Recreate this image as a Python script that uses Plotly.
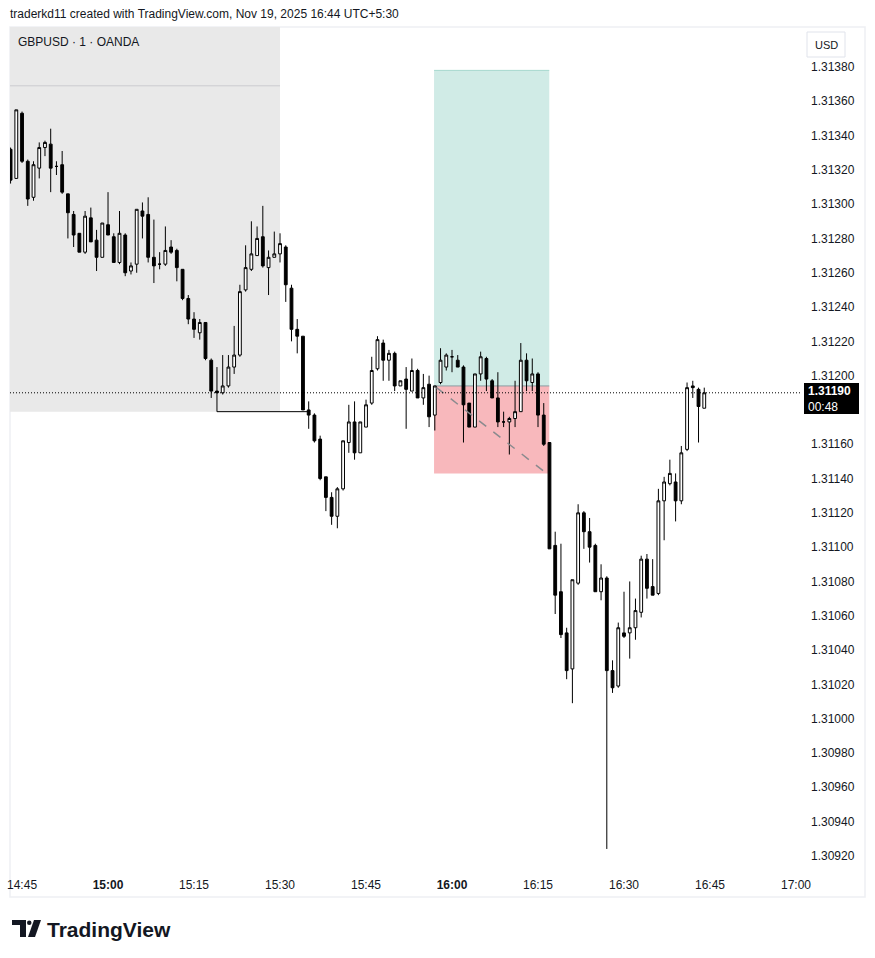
import pandas as pd
import plotly.graph_objects as go

# ---------------- data ----------------
start_time = "2025-11-19 14:43"
n_bars = 122

opens = [1.31332,1.31315,1.31353,1.31325,1.31304,1.31321,1.31333,1.31335,1.31322,1.31323,
         1.31306,1.31294,1.31283,1.31272,1.31292,1.31279,1.31269,1.31288,1.31281,1.31266,
         1.31282,1.31261,1.31265,1.31296,1.31294,1.31269,1.31265,1.31265,1.31275,1.31273,
         1.31262,1.31245,1.31233,1.31225,1.31231,1.31209,1.31191,1.31190,1.31194,1.31205,
         1.31212,1.31250,1.31262,1.31270,1.31281,1.31263,1.31269,1.31271,1.31275,1.31251,
         1.31227,1.31223,1.31180,1.31177,1.31163,1.31141,1.31129,1.31118,1.31134,1.31161,
         1.31173,1.31155,1.31170,1.31184,1.31204,1.31219,1.31209,1.31213,1.31194,1.31198,
         1.31191,1.31203,1.31187,1.31195,1.31177,1.31196,1.31205,1.31211,1.31209,1.31205,
         1.31184,1.31170,1.31201,1.31210,1.31197,1.31187,1.31173,1.31173,1.31175,1.31179,
         1.31209,1.31196,1.31201,1.31177,1.31161,1.31101,1.31074,1.31050,1.31029,1.31079,
         1.31120,1.31109,1.31101,1.31074,1.31082,1.31028,1.31019,1.31050,1.31050,1.31053,
         1.31062,1.31093,1.31077,1.31073,1.31127,1.31137,1.31138,1.31127,1.31157,1.31194,
         1.31192,1.31181]

highs = [1.31333,1.31355,1.31354,1.31326,1.31325,1.31336,1.31337,1.31344,1.31325,1.31331,
         1.31306,1.31296,1.31283,1.31296,1.31298,1.31285,1.31289,1.31307,1.31283,1.31296,
         1.31283,1.31266,1.31297,1.31301,1.31304,1.31291,1.31272,1.31287,1.31279,1.31274,
         1.31262,1.31247,1.31237,1.31233,1.31231,1.31210,1.31205,1.31212,1.31212,1.31229,
         1.31253,1.31276,1.31290,1.31287,1.31299,1.31273,1.31284,1.31283,1.31276,1.31253,
         1.31233,1.31223,1.31185,1.31178,1.31165,1.31141,1.31132,1.31135,1.31162,1.31183,
         1.31185,1.31173,1.31186,1.31211,1.31223,1.31221,1.31215,1.31214,1.31197,1.31205,
         1.31210,1.31204,1.31201,1.31200,1.31194,1.31216,1.31213,1.31215,1.31212,1.31206,
         1.31184,1.31201,1.31214,1.31211,1.31198,1.31202,1.31179,1.31176,1.31197,1.31219,
         1.31213,1.31210,1.31202,1.31184,1.31161,1.31109,1.31102,1.31053,1.31081,1.31125,
         1.31121,1.31117,1.31102,1.31090,1.31083,1.31034,1.31056,1.31074,1.31080,1.31070,
         1.31095,1.31096,1.31093,1.31134,1.31141,1.31151,1.31143,1.31159,1.31196,1.31197,
         1.31193,1.31193]

lows = [1.31312,1.31315,1.31324,1.31299,1.31302,1.31315,1.31328,1.31307,1.31317,1.31306,
        1.31280,1.31275,1.31272,1.31271,1.31278,1.31261,1.31269,1.31282,1.31266,1.31265,
        1.31258,1.31259,1.31260,1.31280,1.31266,1.31254,1.31262,1.31264,1.31271,1.31255,
        1.31244,1.31230,1.31222,1.31221,1.31209,1.31187,1.31179,1.31189,1.31193,1.31201,
        1.31211,1.31249,1.31261,1.31270,1.31263,1.31247,1.31269,1.31266,1.31243,1.31220,
        1.31213,1.31180,1.31169,1.31161,1.31139,1.31121,1.31113,1.31111,1.31133,1.31155,
        1.31151,1.31155,1.31170,1.31183,1.31203,1.31197,1.31197,1.31191,1.31194,1.31169,
        1.31191,1.31187,1.31183,1.31170,1.31168,1.31195,1.31203,1.31202,1.31205,1.31161,
        1.31170,1.31170,1.31197,1.31191,1.31187,1.31170,1.31170,1.31154,1.31170,1.31179,
        1.31191,1.31191,1.31170,1.31159,1.31099,1.31061,1.31047,1.31023,1.31009,1.31078,
        1.31099,1.31091,1.31074,1.31069,1.30924,1.31015,1.31018,1.31047,1.31035,1.31046,
        1.31059,1.31070,1.31072,1.31072,1.31104,1.31136,1.31115,1.31125,1.31156,1.31187,
        1.31161,1.31181]

closes = [1.31314,1.31355,1.31325,1.31303,1.31323,1.31333,1.31336,1.31321,1.31322,1.31307,
          1.31295,1.31282,1.31272,1.31293,1.31278,1.31269,1.31289,1.31282,1.31266,1.31283,
          1.31260,1.31264,1.31297,1.31293,1.31269,1.31264,1.31265,1.31273,1.31272,1.31263,
          1.31245,1.31233,1.31227,1.31231,1.31210,1.31191,1.31190,1.31194,1.31205,1.31212,
          1.31249,1.31263,1.31271,1.31280,1.31264,1.31269,1.31271,1.31277,1.31253,1.31227,
          1.31223,1.31180,1.31177,1.31162,1.31140,1.31129,1.31118,1.31134,1.31162,1.31173,
          1.31155,1.31173,1.31183,1.31203,1.31221,1.31209,1.31213,1.31194,1.31197,1.31192,
          1.31203,1.31187,1.31193,1.31176,1.31194,1.31209,1.31212,1.31211,1.31205,1.31183,
          1.31170,1.31201,1.31211,1.31198,1.31187,1.31173,1.31173,1.31175,1.31179,1.31209,
          1.31197,1.31201,1.31177,1.31160,1.31099,1.31072,1.31049,1.31028,1.31081,1.31120,
          1.31109,1.31100,1.31074,1.31082,1.31028,1.31018,1.31053,1.31048,1.31053,1.31063,
          1.31093,1.31076,1.31072,1.31127,1.31138,1.31143,1.31127,1.31155,1.31193,1.31193,
          1.31182,1.31190]

last_price = 1.31190
countdown = "00:48"

x_tick_vals = ["2025-11-19 14:45", "2025-11-19 15:00", "2025-11-19 15:15", "2025-11-19 15:30",
               "2025-11-19 15:45", "2025-11-19 16:00", "2025-11-19 16:15", "2025-11-19 16:30",
               "2025-11-19 16:45", "2025-11-19 17:00"]
x_tick_text = ["14:45", "<b>15:00</b>", "15:15", "15:30", "15:45", "<b>16:00</b>",
               "16:15", "16:30", "16:45", "17:00"]

y_tick_vals = [1.31380, 1.31360, 1.31340, 1.31320, 1.31300, 1.31280, 1.31260, 1.31240,
               1.31220, 1.31200, 1.31160, 1.31140, 1.31120, 1.31100, 1.31080, 1.31060,
               1.31040, 1.31020, 1.31000, 1.30980, 1.30960, 1.30940, 1.30920]
y_tick_text = [f"{v:.5f}" for v in y_tick_vals]

# drawings
shade_end = "2025-11-19 15:30"
shade_low = 1.31179
shade_line_price = 1.31369
swing_low_price = 1.31179
swing_line_start = "2025-11-19 15:19"
swing_line_end = "2025-11-19 15:35"

pos_start = "2025-11-19 15:56:52"
pos_end = "2025-11-19 16:16:58"
pos_target = 1.31378
pos_entry = 1.31194
pos_stop = 1.31143
path_start = ("2025-11-19 15:57:18", 1.31193)
path_end = ("2025-11-19 16:16:30", 1.31143)

x_range = ["2025-11-19 14:42:54", "2025-11-19 17:00:42"]
y_range = [1.309129, 1.314033]

# ---------------- figure ----------------
times = pd.date_range(start_time, periods=n_bars, freq="min")

W, H = 875, 958
L, R, T, B = 10, 800, 27, 868   # plot area in pixels


def px(x):
    return (x - L) / (R - L)


def py(y):
    return (B - y) / (B - T)


FONT = "Liberation Sans, Arial, sans-serif"
TXT = "#131722"

fig = go.Figure()
fig.add_trace(go.Candlestick(
    x=times, open=opens, high=highs, low=lows, close=closes,
    increasing=dict(fillcolor="#ffffff", line=dict(color="#000000", width=1)),
    decreasing=dict(fillcolor="#000000", line=dict(color="#000000", width=1)),
    whiskerwidth=0, showlegend=False, hoverinfo="skip",
))

shapes = []
# frame around chart
shapes.append(dict(type="rect", xref="paper", yref="paper", x0=px(10), x1=px(865),
                   y0=py(897), y1=py(27), line=dict(color="#eef0f3", width=1.5),
                   fillcolor="rgba(0,0,0,0)", layer="below"))
# gray highlight rectangle
shapes.append(dict(type="rect", xref="x", yref="y", x0=x_range[0], x1=shade_end,
                   y0=shade_low, y1=y_range[1], fillcolor="#e9e9e9", line=dict(width=0),
                   layer="below"))
shapes.append(dict(type="line", xref="x", yref="y", x0=x_range[0], x1=shade_end,
                   y0=shade_line_price, y1=shade_line_price,
                   line=dict(color="#cbcbcf", width=1), layer="below"))
# long position box
shapes.append(dict(type="rect", xref="x", yref="y", x0=pos_start, x1=pos_end,
                   y0=pos_entry, y1=pos_target, fillcolor="#d0ebe6", line=dict(width=0),
                   layer="below"))
shapes.append(dict(type="rect", xref="x", yref="y", x0=pos_start, x1=pos_end,
                   y0=pos_stop, y1=pos_entry, fillcolor="#f8b8bc", line=dict(width=0),
                   layer="below"))
shapes.append(dict(type="line", xref="x", yref="y", x0=pos_start, x1=pos_end,
                   y0=pos_target, y1=pos_target, line=dict(color="#a6d8cd", width=1),
                   layer="below"))
shapes.append(dict(type="line", xref="x", yref="y", x0=pos_start, x1=pos_end,
                   y0=pos_entry, y1=pos_entry, line=dict(color="#8c9aa1", width=1),
                   layer="below"))
shapes.append(dict(type="line", xref="x", yref="y", x0=path_start[0], x1=path_end[0],
                   y0=path_start[1], y1=path_end[1],
                   line=dict(color="#8a8a8e", width=1.5, dash="dash")))
# swing low line
shapes.append(dict(type="line", xref="x", yref="y", x0=swing_line_start, x1=swing_line_end,
                   y0=swing_low_price, y1=swing_low_price, line=dict(color="#000000", width=1)))
# last price dotted line
shapes.append(dict(type="line", xref="paper", yref="y", x0=0, x1=1,
                   y0=last_price, y1=last_price,
                   line=dict(color="#000000", width=1, dash="1px,2px")))
# last price label box
shapes.append(dict(type="rect", xref="paper", yref="paper", x0=px(804), x1=px(859),
                   y0=py(414), y1=py(383), fillcolor="#000000", line=dict(width=0)))
# USD button
shapes.append(dict(type="rect", xref="paper", yref="paper", x0=px(807), x1=px(845),
                   y0=py(57), y1=py(32), fillcolor="#ffffff",
                   line=dict(color="#e0e3eb", width=1)))
# TradingView logo glyph
shapes.append(dict(type="path", xref="paper", yref="paper", fillcolor="#131722",
                   line=dict(width=0),
                   path=(f"M {px(12)} {py(920)} L {px(26)} {py(920)} L {px(26)} {py(937)} "
                         f"L {px(20)} {py(937)} L {px(20)} {py(925)} L {px(12)} {py(925)} Z")))
shapes.append(dict(type="circle", xref="paper", yref="paper", fillcolor="#131722",
                   line=dict(width=0), x0=px(27), x1=px(31.5), y0=py(925), y1=py(920.5)))
shapes.append(dict(type="path", xref="paper", yref="paper", fillcolor="#131722",
                   line=dict(width=0),
                   path=(f"M {px(34)} {py(920)} L {px(41)} {py(920)} L {px(35)} {py(937)} "
                         f"L {px(28)} {py(937)} Z")))

annotations = [
    dict(xref="paper", yref="paper", x=px(8), y=py(14), xanchor="left", yanchor="middle",
         text="traderkd11 created with TradingView.com, Nov 19, 2025 16:44 UTC+5:30",
         showarrow=False, font=dict(family=FONT, size=12, color=TXT)),
    dict(xref="paper", yref="paper", x=px(16), y=py(42), xanchor="left", yanchor="middle",
         text="GBPUSD · 1 · OANDA", showarrow=False, font=dict(family=FONT, size=12, color=TXT)),
    dict(xref="paper", yref="paper", x=px(826), y=py(44.5), xanchor="center", yanchor="middle",
         text="USD", showarrow=False, font=dict(family=FONT, size=11, color=TXT)),
    dict(xref="paper", yref="paper", x=px(806), y=py(398.5), xanchor="left", yanchor="middle",
         text=f"<b>{last_price:.5f}</b><br>{countdown}", showarrow=False, align="left",
         font=dict(family=FONT, size=12, color="#ffffff")),
    dict(xref="paper", yref="paper", x=px(45), y=py(929), xanchor="left", yanchor="middle",
         text="<b>TradingView</b>", showarrow=False,
         font=dict(family=FONT, size=21, color="#131722")),
]

fig.update_layout(
    width=W, height=H,
    margin=dict(l=L, r=W - R, t=T, b=H - B, autoexpand=False),
    paper_bgcolor="#ffffff", plot_bgcolor="#ffffff",
    shapes=shapes, annotations=annotations,
    showlegend=False,
    font=dict(family=FONT, size=12, color=TXT),
    xaxis=dict(type="date", range=x_range, tickvals=x_tick_vals, ticktext=x_tick_text,
               showgrid=False, zeroline=False, showline=False, ticks="",
               rangeslider=dict(visible=False), ticklabelstandoff=8, automargin=False,
               tickfont=dict(family=FONT, size=12, color=TXT), fixedrange=True),
    yaxis=dict(side="right", range=y_range, tickvals=y_tick_vals, ticktext=y_tick_text,
               showgrid=False, zeroline=False, showline=False, ticks="",
               ticklabelstandoff=10, automargin=False,
               tickfont=dict(family=FONT, size=12, color=TXT), fixedrange=True),
)

fig.write_html("out.html", config={"displayModeBar": False},
               post_script="document.body.style.margin='0';")
